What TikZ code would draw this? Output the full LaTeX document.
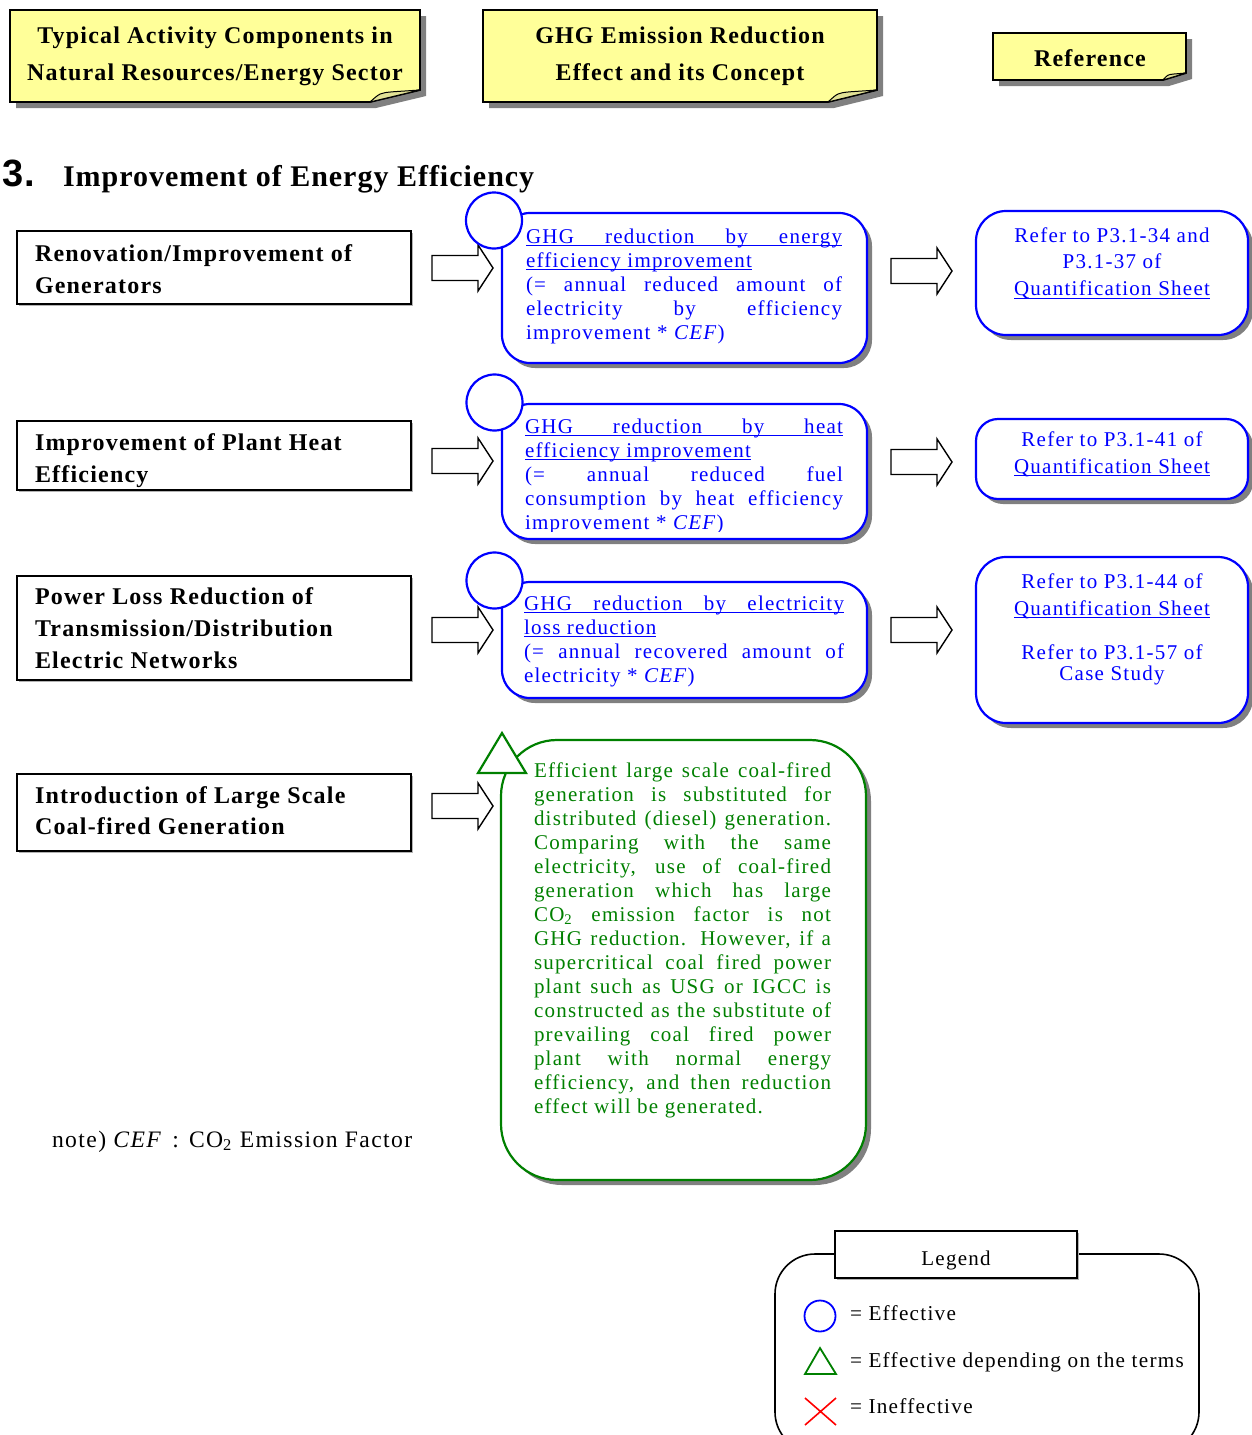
\documentclass[tikz,border=0pt]{standalone}
\usepackage{fontspec}
\setmainfont{Liberation Serif}
\newfontfamily\ls{Liberation Serif}[LetterSpace=6]
\newfontfamily\lsb{Liberation Serif}[LetterSpace=5]
\newfontfamily\lst{Liberation Serif}[LetterSpace=3.3]
\newfontfamily\numsans{Liberation Sans}

\definecolor{noteyellow}{RGB}{255,255,153}
\definecolor{foldyellow}{RGB}{226,226,150}
\definecolor{shadowgray}{RGB}{128,128,128}
\definecolor{effblue}{RGB}{0,0,255}
\definecolor{effgreen}{RGB}{0,128,0}
\definecolor{inefred}{RGB}{255,0,0}

% one justified line of a paragraph
\newcommand\jline[1]{\makebox[\linewidth][s]{#1}}
% underline drawn through the descenders, as in word processors
\newcommand\uln[1]{\leavevmode{\setbox0\hbox{#1}\rlap{\rule[-1.6pt]{\wd0}{0.5pt}}\box0}}

% yellow note with folded corner: x1,y1,x2,y2,fold width,fold height
\newcommand\notebox[6]{%
  \fill[shadowgray] (#1+6,#2+6) -- (#3+6,#2+6) -- (#3+6,#4-#6+6) -- (#3-#5+6,#4+6) -- (#1+6,#4+6) -- cycle;
  \draw[notebody] (#1,#2) -- (#3,#2) -- (#3,#4-#6) -- (#3-#5,#4) -- (#1,#4) -- cycle;
  \draw[noteflap] (#3-#5,#4) .. controls (#3-0.8*#5,#4-0.75*#6) .. (#3-0.55*#5,#4-0.85*#6) -- (#3,#4-#6) -- cycle;
}

\begin{document}
\begin{tikzpicture}[x=0.5pt,y=-0.5pt,
  every node/.style={inner sep=0pt, outer sep=0pt},
  notebody/.style={draw=black, line width=0.9pt, fill=noteyellow, line join=miter},
  noteflap/.style={draw=black, line width=0.5pt, fill=foldyellow, line join=round},
  boxline/.style={draw=black, line width=0.8pt, fill=white},
  arrowline/.style={draw=black, line width=0.7pt, fill=white, line join=miter},
  blueline/.style={draw=effblue, line width=1.1pt, fill=white},
  greenline/.style={draw=effgreen, line width=1.1pt, fill=white},
  boxshadow/.style={fill=shadowgray},
  headtext/.style={anchor=base},
  lefttext/.style={anchor=base west},
  bodytext/.style={anchor=base west},
  reftext/.style={anchor=base, text=effblue},
  blockarrow/.pic={\draw[arrowline] (0,-12.5) -- (46,-12.5) -- (46,-23) -- (61,0) -- (46,23) -- (46,12.5) -- (0,12.5) -- cycle;}
]
\useasboundingbox (0,0) rectangle (1252,1435);
\fill[white] (0,0) rectangle (1252,1435);

% ---------- column headers ----------
\notebox{10}{10}{420}{102}{50}{12}
\notebox{483}{10}{877}{102}{49}{12}
\notebox{993}{33}{1186}{80}{23}{7}
\node[headtext] (h1) at (215,43) {\parbox[t]{200pt}{\centering\fontsize{12}{18.5}\lsb\bfseries
  Typical Activity Components in\\Natural Resources/Energy Sector}};
\node[headtext] (h2) at (680,43) {\parbox[t]{190pt}{\centering\fontsize{12}{18.5}\lsb\bfseries
  GHG Emission Reduction\\Effect and its Concept}};
\node[headtext] (h3) at (1090,66) {\fontsize{12}{18.5}\lsb\bfseries Reference};

% ---------- section title ----------
\node[anchor=base west] (secnum) at (3,186) {\fontsize{19}{19}\numsans\bfseries 3.};
\node[anchor=base west] (sectitle) at (63,186) {\fontsize{15}{15}\lst\bfseries Improvement of Energy Efficiency};

% ---------- activity boxes ----------
\fill[shadowgray!60] (19,233) rectangle (413,306);
\draw[boxline] (17,231) rectangle (411,304);
\fill[shadowgray!60] (19,423) rectangle (413,492);
\draw[boxline] (17,421) rectangle (411,490);
\fill[shadowgray!60] (19,578) rectangle (413,682);
\draw[boxline] (17,576) rectangle (411,680);
\fill[shadowgray!60] (19,776) rectangle (413,853);
\draw[boxline] (17,774) rectangle (411,851);

\node[lefttext] (a1) at (35,261) {\parbox[t]{190pt}{\raggedright\fontsize{12}{16}\lsb\bfseries
  Renovation/Improvement of\\Generators}};
\node[lefttext] (a2) at (35,450) {\parbox[t]{190pt}{\raggedright\fontsize{12}{16}\lsb\bfseries
  Improvement of Plant Heat\\Efficiency}};
\node[lefttext] (a3) at (35,604) {\parbox[t]{190pt}{\raggedright\fontsize{12}{16}\lsb\bfseries
  Power Loss Reduction of\\Transmission/Distribution\\Electric Networks}};
\node[lefttext] (a4) at (35,803) {\parbox[t]{190pt}{\raggedright\fontsize{12}{15.5}\lsb\bfseries
  Introduction of Large Scale\\Coal-fired Generation}};

% ---------- block arrows ----------
\pic at (432,268) {blockarrow};
\pic at (432,461) {blockarrow};
\pic at (432,630) {blockarrow};
\pic at (432,806) {blockarrow};
\pic at (891,271) {blockarrow};
\pic at (891,462) {blockarrow};
\pic at (891,630) {blockarrow};

% ---------- effect boxes ----------
\fill[boxshadow, rounded corners=14pt] (507,218) rectangle (872,368);
\draw[blueline, rounded corners=14pt] (502,213) rectangle (867,363);
\draw[blueline] (494,220.5) circle (28);
\node[bodytext, text=effblue] (e1) at (526,243) {\parbox[t]{158pt}{\fontsize{10.5}{12}\ls
  \uln{\jline{GHG reduction by energy}}\\
  \uln{efficiency improvement}\\
  \jline{(= annual reduced amount of}\\
  \jline{electricity by efficiency}\\
  improvement * \textit{CEF})}};

\fill[boxshadow, rounded corners=14pt] (507,409) rectangle (872,544);
\draw[blueline, rounded corners=14pt] (502,404) rectangle (867,539);
\draw[blueline] (494.5,402.5) circle (28);
\begin{scope}
  \clip (505,395) rectangle (860,531);
  \node[bodytext, text=effblue] (e2) at (525,433) {\parbox[t]{159pt}{\fontsize{10.5}{12}\ls
    \uln{\jline{GHG reduction by heat}}\\
    \uln{efficiency improvement}\\
    \jline{(= annual reduced fuel}\\
    \jline{consumption by heat efficiency}\\
    improvement * \textit{CEF})}};
\end{scope}

\fill[boxshadow, rounded corners=14pt] (507,587) rectangle (872,703);
\draw[blueline, rounded corners=14pt] (502,582) rectangle (867,698);
\draw[blueline] (494.5,580.5) circle (28);
\node[bodytext, text=effblue] (e3) at (524,610) {\parbox[t]{160pt}{\fontsize{10.5}{12}\ls
  \uln{\jline{GHG reduction by electricity}}\\
  \uln{loss reduction}\\
  \jline{(= annual recovered amount of}\\
  electricity * \textit{CEF})}};

\fill[boxshadow, rounded corners=28pt] (506,745) rectangle (871,1185);
\draw[greenline, rounded corners=28pt] (501,740) rectangle (866,1180);
\draw[greenline, line join=miter] (502,733) -- (526,773) -- (478,773) -- cycle;
\node[bodytext, text=effgreen] (e4) at (534,777) {\parbox[t]{148.5pt}{\fontsize{10.5}{12}\ls
  \jline{Efficient large scale coal-fired}\\
  \jline{generation is substituted for}\\
  \jline{distributed (diesel) generation.}\\
  \jline{Comparing with the same}\\
  \jline{electricity, use of coal-fired}\\
  \jline{generation which has large}\\
  \jline{CO\textsubscript{2} emission factor is not}\\
  \jline{GHG reduction. However, if a}\\
  \jline{supercritical coal fired power}\\
  \jline{plant such as USG or IGCC is}\\
  \jline{constructed as the substitute of}\\
  \jline{prevailing coal fired power}\\
  \jline{plant with normal energy}\\
  \jline{efficiency, and then reduction}\\
  effect will be generated.}};

% ---------- reference boxes ----------
\fill[boxshadow, rounded corners=15pt] (981,216) rectangle (1253,340);
\draw[blueline, rounded corners=15pt] (976,211) rectangle (1248,335);
\node[reftext] (r1) at (1112,242) {\parbox[t]{130pt}{\centering\fontsize{10.5}{12}\ls
  Refer to P3.1-34 and\\[1.2pt]P3.1-37 of\\[1.5pt]\uln{Quantification Sheet}}};

\fill[boxshadow, rounded corners=11pt] (981,424) rectangle (1253,504);
\draw[blueline, rounded corners=11pt] (976,419) rectangle (1248,499);
\node[reftext] (r2) at (1112,446) {\parbox[t]{130pt}{\centering\fontsize{10.5}{12}\ls
  Refer to P3.1-41 of\\[1.5pt]\uln{Quantification Sheet}}};

\fill[boxshadow, rounded corners=15pt] (981,562) rectangle (1253,728);
\draw[blueline, rounded corners=15pt] (976,557) rectangle (1248,723);
\node[reftext] (r3) at (1112,588) {\parbox[t]{130pt}{\centering\fontsize{10.5}{12}\ls
  Refer to P3.1-44 of\\[1.5pt]\uln{Quantification Sheet}\\[10pt]
  Refer to P3.1-57 of\\[-1.5pt]Case Study}};

% ---------- footnote ----------
\node[anchor=base west] (note) at (52,1147) {\fontsize{11.8}{12}\ls
  note) \textit{CEF}\hspace{5pt}:\hspace{5pt}CO\textsubscript{2} Emission Factor};

% ---------- legend ----------
\draw[draw=black, line width=0.8pt, rounded corners=20pt] (775,1254) rectangle (1199,1452);
\fill[shadowgray!60] (837,1233) rectangle (1079,1280);
\draw[boxline] (835,1231) rectangle (1077,1278);
\node[anchor=base] (legtitle) at (956,1265) {\fontsize{10.5}{12}\ls Legend};
\draw[draw=effblue, line width=0.9pt] (820,1316) circle (15.5);
\draw[draw=effgreen, line width=0.9pt, line join=miter] (820,1348) -- (836,1374) -- (805,1374) -- cycle;
\draw[draw=inefred, line width=0.8pt] (805,1398) -- (836,1425) (836,1398) -- (805,1425);
\node[anchor=base west] (leg1) at (850,1320) {\fontsize{10.6}{12}\ls = Effective};
\node[anchor=base west] (leg2) at (850,1367) {\fontsize{10.6}{12}\ls = Effective depending on the terms};
\node[anchor=base west] (leg3) at (850,1413) {\fontsize{10.6}{12}\ls = Ineffective};
\end{tikzpicture}
\end{document}
